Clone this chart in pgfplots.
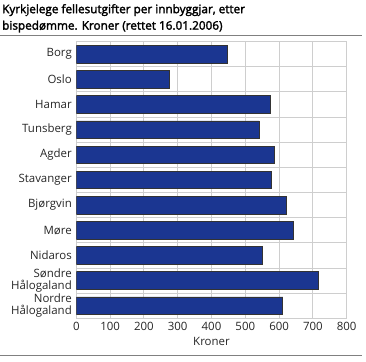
\documentclass[border=0pt]{standalone}
\usepackage{pgfplots}
\pgfplotsset{compat=1.18}
\usepackage{fontspec}
\setmainfont{Open Sans}
\newfontfamily\titlefont{Open Sans}[FakeBold=2.2]
\definecolor{barblue}{RGB}{27,54,145}
\definecolor{gridgray}{RGB}{206,206,206}
\definecolor{rulegray}{RGB}{128,128,128}
\begin{document}
\begin{tikzpicture}[x=1bp,y=1bp]
\path[use as bounding box] (0,0) rectangle (366,362);
\node[anchor=north west,align=left,inner sep=0pt,font=\titlefont\fontsize{11.8}{16.5}\selectfont] at (2,358)
  {Kyrkjelege fellesutgifter per innbyggjar, etter\\bispedømme. Kroner (rettet 16.01.2006)};
\draw[rulegray,line width=1.5bp] (0,326.5) -- (362,326.5);
\draw[rulegray,line width=1.5bp] (0,6.3) -- (362,6.3);
\begin{axis}[
  at={(76.3bp,43.7bp)}, anchor=south west,
  scale only axis, width=270.4bp, height=276.6bp,
  xbar, bar width=0.7,
  xmin=0, xmax=800,
  ymin=-0.5, ymax=10.5, y dir=reverse,
  xtick={0,100,...,800},
  ytick={0,...,10},
  yticklabels={Borg,Oslo,Hamar,Tunsberg,Agder,Stavanger,Bjørgvin,Møre,Nidaros,{Søndre\\Hålogaland},{Nordre\\Hålogaland}},
  yticklabel style={align=right,font=\fontsize{11.5}{11.5}\selectfont,text=black!85,xshift=-1bp},
  xticklabel style={font=\fontsize{11.5}{12}\selectfont,text=black!85},
  minor ytick={-0.5,0.5,...,10.5},
  ymajorgrids=false, yminorgrids=true, xmajorgrids=true,
  grid style={gridgray,line width=1bp},
  minor grid style={gridgray,line width=1bp},
  axis line style={gridgray,line width=1bp},
  major tick length=0pt, minor tick length=0pt,
  tick style={draw=none},
  /pgf/number format/assume math mode=true,
  xlabel={Kroner},
  xlabel style={font=\fontsize{11.5}{12}\selectfont,text=black!85,yshift=0bp},
]
\addplot[fill=barblue,draw=black!80,line width=0.8bp] coordinates {
(448,0) (274,1) (574,2) (541,3) (587,4) (578,5) (623,6) (641,7) (550,8) (716,9) (611,10)
};
\end{axis}
\end{tikzpicture}
\end{document}
